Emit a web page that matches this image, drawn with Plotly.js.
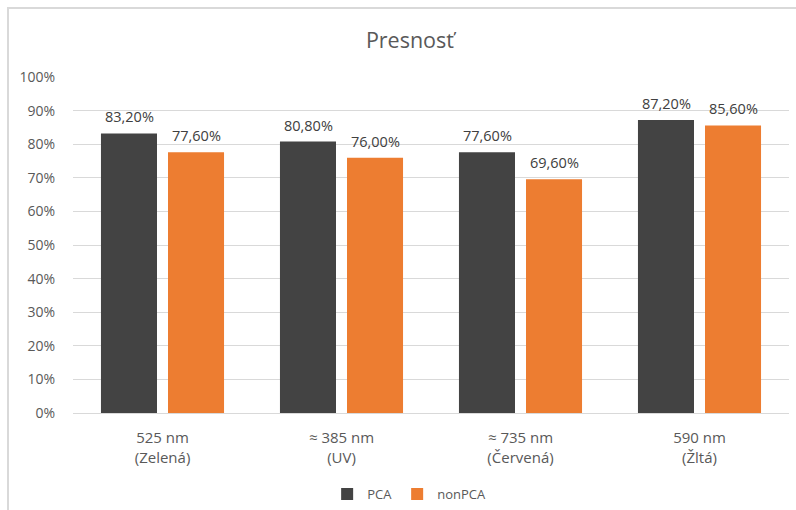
<!DOCTYPE html>
<html>
<head>
<meta charset="utf-8">
<script src="https://cdn.plot.ly/plotly-3.0.1.min.js"></script>
<style>
html,body{margin:0;padding:0;background:#fff;}
#wrap{position:relative;width:796px;height:510px;overflow:hidden;}
#chart{position:absolute;left:0;top:0;width:796px;height:510px;}
#frame{position:absolute;left:7px;top:7px;width:900px;height:600px;border-left:2px solid #d9d9d9;border-top:2px solid #d9d9d9;pointer-events:none;}
</style>
</head>
<body>
<div id="wrap"><div id="chart"></div><div id="frame"></div></div>
<script>
const categories = ["525 nm<br>(Zelená)", "≈ 385 nm<br>(UV)", "≈ 735 nm<br>(Červená)", "590 nm<br>(Žltá)"];
const pcaValues = [0.832, 0.808, 0.776, 0.872];
const nonPcaValues = [0.776, 0.760, 0.696, 0.856];
const seriesNames = ["PCA", "nonPCA"];

const fmt = v => (v * 100).toFixed(2).replace('.', ',') + '%';
const font = "'Open Sans', sans-serif";

function series(name, vals, color) {
  return {
    type: 'bar', name: name, x: categories, y: vals,
    marker: {color: color, line: {width: 0}},
    hoverinfo: 'skip'
  };
}

const data = [
  series(seriesNames[0], pcaValues, '#434343'),
  series(seriesNames[1], nonPcaValues, '#ED7D31')
];

// data labels above bars (group offset = half a bar slot)
const annotations = [];
[pcaValues, nonPcaValues].forEach((vals, si) => {
  vals.forEach((v, i) => {
    annotations.push({
      x: categories[i], y: v, xref: 'x', yref: 'y',
      text: fmt(v), showarrow: false,
      xanchor: 'center', yanchor: 'middle',
      xshift: si === 0 ? -33.5 : 33.5, yshift: 16.5,
      font: {family: font, size: 14.5, color: '#404040'}
    });
  });
});

const layout = {
  width: 796, height: 510,
  margin: {l: 73, r: 7, t: 77, b: 97},
  paper_bgcolor: '#fff', plot_bgcolor: '#fff',
  font: {family: font, color: '#595959', size: 14},
  title: {text: 'Presnosť', x: 0.515, xref: 'container', xanchor: 'center',
          y: 1 - 40/510, yref: 'container', yanchor: 'middle',
          font: {family: font, size: 21.5, color: '#595959'}},
  barmode: 'group', bargap: 0.251, bargroupgap: 0.164,
  showlegend: true,
  legend: {orientation: 'h', x: 0.514, xref: 'container', xanchor: 'center',
           y: 1 - 494/510, yref: 'container', yanchor: 'middle',
           font: {family: font, size: 13, color: '#595959'}, itemwidth: 30, tracegroupgap: 0},
  annotations: annotations,
  xaxis: {showgrid: false, showline: true, linecolor: '#d9d9d9', linewidth: 1,
          ticks: 'outside', ticklen: 11, tickcolor: 'rgba(0,0,0,0)', automargin: false,
          tickfont: {family: font, size: 15, color: '#595959'}, fixedrange: true},
  yaxis: {range: [0, 1], dtick: 0.1, tickformat: '.0%', showgrid: true, gridcolor: '#d9d9d9',
          gridwidth: 1, zeroline: false, showline: false, automargin: false,
          ticks: 'outside', ticklen: 14, tickcolor: 'rgba(0,0,0,0)',
          tickfont: {family: font, size: 14, color: '#595959'}, fixedrange: true}
};

Plotly.newPlot('chart', data, layout, {displayModeBar: false, staticPlot: true});
</script>
</body>
</html>
